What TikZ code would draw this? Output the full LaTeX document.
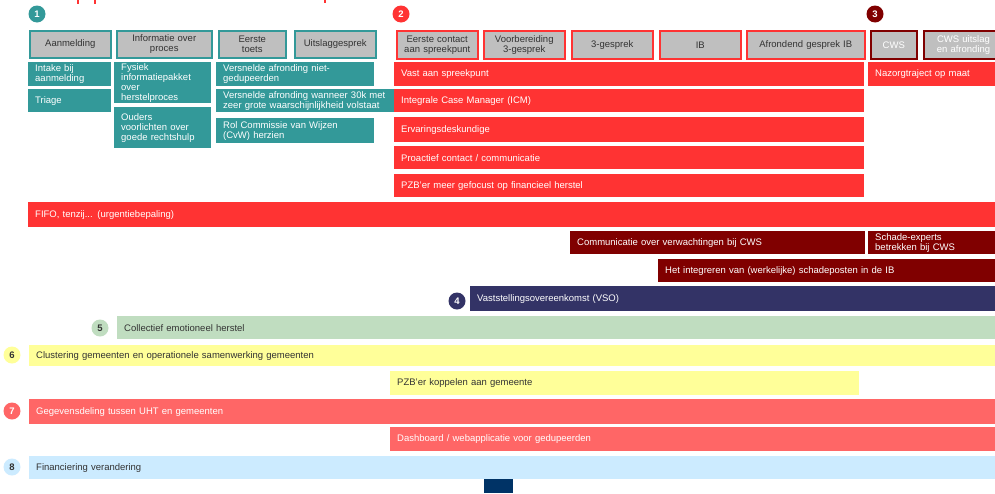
\documentclass[tikz,border=0pt]{standalone}
\usepackage{fontspec}
\setmainfont{Liberation Sans}
\definecolor{teal1}{HTML}{339999}
\definecolor{red1}{HTML}{FF3333}
\definecolor{dred}{HTML}{800000}
\definecolor{navy1}{HTML}{333366}
\definecolor{green1}{HTML}{C0DDC0}
\definecolor{yel1}{HTML}{FFFF99}
\definecolor{salm}{HTML}{FF6666}
\definecolor{lblue}{HTML}{CCEBFF}
\definecolor{grey1}{HTML}{BFBFBF}
\definecolor{dblue}{HTML}{003366}
\definecolor{txt}{HTML}{333333}
\tikzset{
  basebox/.style={inner ysep=0pt, inner xsep=7pt, font=\fontsize{9.5}{10}\selectfont},
  bartext/.style={basebox, align=left},
  tealbar/.style={bartext, fill=teal1, text=white},
  redbar/.style={bartext, fill=red1, text=white},
  dredbar/.style={bartext, fill=dred, text=white},
  navybar/.style={bartext, fill=navy1, text=white},
  greenbar/.style={bartext, fill=green1, text=txt},
  yelbar/.style={bartext, fill=yel1, text=txt},
  salmbar/.style={bartext, fill=salm, text=white},
  bluebar/.style={bartext, fill=lblue, text=txt},
  hdr/.style={basebox, inner xsep=3pt, align=center, fill=grey1, line width=2.5pt, text=txt},
  tealhdr/.style={hdr, draw=teal1},
  redhdr/.style={hdr, draw=red1},
  dredhdr/.style={hdr, draw=dred, text=white},
  badge/.style={circle, inner sep=0pt, minimum size=17pt, font=\bfseries\fontsize{9.5}{10}\selectfont},
}
\newcommand\boxat[7]{%
  \pgfmathsetmacro\bh{#6-#4}%
  \pgfmathsetmacro\tw{#5-#3-14}%
  \node[#2, anchor=north west, minimum height=\bh pt, text width=\tw pt] (#1) at (#3,#4) {#7};%
}
\newcommand\hdrat[7]{%
  \pgfmathsetmacro\bh{#6-#4}%
  \pgfmathsetmacro\tw{#5-#3-6}%
  \node[#2, anchor=north west, minimum height=\bh pt, text width=\tw pt] (#1) at (#3,#4) {#7};%
}
\begin{document}
\begin{tikzpicture}[x=1pt,y=-1pt]
\useasboundingbox (0,0) rectangle (995,493);
\clip (0,0) rectangle (995,493);
\fill[white] (0,0) rectangle (995,493);

% clipped fragments at top
\fill[red1] (77,0) rectangle (79,4);
\fill[red1] (94,0) rectangle (96,4);
\fill[red1] (324,0) rectangle (326,3);

% badges
\node[badge, fill=teal1, text=white] (b1) at (37,14) {1};
\node[badge, fill=red1, text=white] (b2) at (401,14) {2};
\node[badge, fill=dred, text=white] (b3) at (875,14) {3};
\node[badge, fill=navy1, text=white] (b4) at (457,301) {4};
\node[badge, fill=green1, text=txt] (b5) at (100,328) {5};
\node[badge, fill=yel1, text=txt] (b6) at (12,355) {6};
\node[badge, fill=salm, text=white] (b7) at (12,411) {7};
\node[badge, fill=lblue, text=txt] (b8) at (12,467) {8};

% phase 1 headers
\hdrat{h1a}{tealhdr}{28.5}{29.5}{109.5}{56.5}{Aanmelding}
\hdrat{h1b}{tealhdr}{115.5}{29.5}{210.5}{56.5}{Informatie over\\proces}
\hdrat{h1c}{tealhdr}{217.5}{29.5}{284.5}{56.5}{Eerste\\toets}
\hdrat{h1d}{tealhdr}{293.5}{29.5}{374.5}{56.5}{Uitslaggesprek}

% phase 1 items
\boxat{t1}{tealbar}{28}{62}{111}{86}{Intake bij\\aanmelding}
\boxat{t2}{tealbar}{28}{89}{111}{112}{Triage}
\boxat{t3}{tealbar}{114}{62}{211}{103}{Fysiek\\informatiepakket\\over\\herstelproces}
\boxat{t4}{tealbar}{114}{107}{211}{148}{Ouders\\voorlichten over\\goede rechtshulp}
\boxat{t5}{tealbar}{216}{62}{374}{86}{Versnelde afronding niet-\\gedupeerden}
\boxat{t6}{tealbar}{216}{89}{440}{112}{Versnelde afronding wanneer 30k met\\zeer grote waarschijnlijkheid volstaat}
\boxat{t7}{tealbar}{216}{118}{374}{143}{Rol Commissie van Wijzen\\(CvW) herzien}

% phase 2 headers
\hdrat{h2a}{redhdr}{395.5}{29.5}{476.5}{57.5}{Eerste contact\\aan spreekpunt}
\hdrat{h2b}{redhdr}{482.5}{29.5}{563.5}{57.5}{Voorbereiding\\3-gesprek}
\hdrat{h2c}{redhdr}{570.5}{29.5}{651.5}{57.5}{3-gesprek}
\hdrat{h2d}{redhdr}{658.5}{29.5}{739.5}{57.5}{IB}
\hdrat{h2e}{redhdr}{745.5}{29.5}{863.5}{57.5}{Afrondend gesprek IB}

% phase 3 headers
\hdrat{h3a}{dredhdr}{869.5}{29.5}{915.5}{57.5}{CWS}
\hdrat{h3b}{dredhdr}{922.5}{29.5}{1002}{57.5}{CWS uitslag\\en afronding}

% phase 2 items
\boxat{r1}{redbar}{394}{62}{864}{86}{Vast aan spreekpunt}
\boxat{r2}{redbar}{394}{89}{864}{112}{Integrale Case Manager (ICM)}
\boxat{r3}{redbar}{394}{117}{864}{142}{Ervaringsdeskundige}
\boxat{r4}{redbar}{394}{146}{864}{169}{Proactief contact / communicatie}
\boxat{r5}{redbar}{394}{174}{864}{197}{PZB'er meer gefocust op financieel herstel}
\boxat{r6}{redbar}{868}{62}{1010}{86}{Nazorgtraject op maat}

% long bars
\boxat{fifo}{redbar}{28}{202}{1010}{227}{FIFO, tenzij... (urgentiebepaling)}
\boxat{d1}{dredbar}{570}{231}{865}{254}{Communicatie over verwachtingen bij CWS}
\boxat{d2}{dredbar}{868}{231}{1010}{254}{Schade-experts\\betrekken bij CWS}
\boxat{d3}{dredbar}{658}{259}{1010}{282}{Het integreren van (werkelijke) schadeposten in de IB}
\boxat{vso}{navybar}{470}{286}{1010}{311}{Vaststellingsovereenkomst (VSO)}
\boxat{ceh}{greenbar}{117}{316}{1010}{339}{Collectief emotioneel herstel}
\boxat{clu}{yelbar}{29}{345}{1010}{366}{Clustering gemeenten en operationele samenwerking gemeenten}
\boxat{pzb}{yelbar}{390}{371}{859}{395}{PZB'er koppelen aan gemeente}
\boxat{geg}{salmbar}{29}{399}{1010}{424}{Gegevensdeling tussen UHT en gemeenten}
\boxat{dash}{salmbar}{390}{427}{1010}{451}{Dashboard / webapplicatie voor gedupeerden}
\boxat{fin}{bluebar}{29}{456}{1010}{479}{Financiering verandering}

% bottom fragment
\fill[dblue] (484,479) rectangle (513,493);
\end{tikzpicture}
\end{document}
